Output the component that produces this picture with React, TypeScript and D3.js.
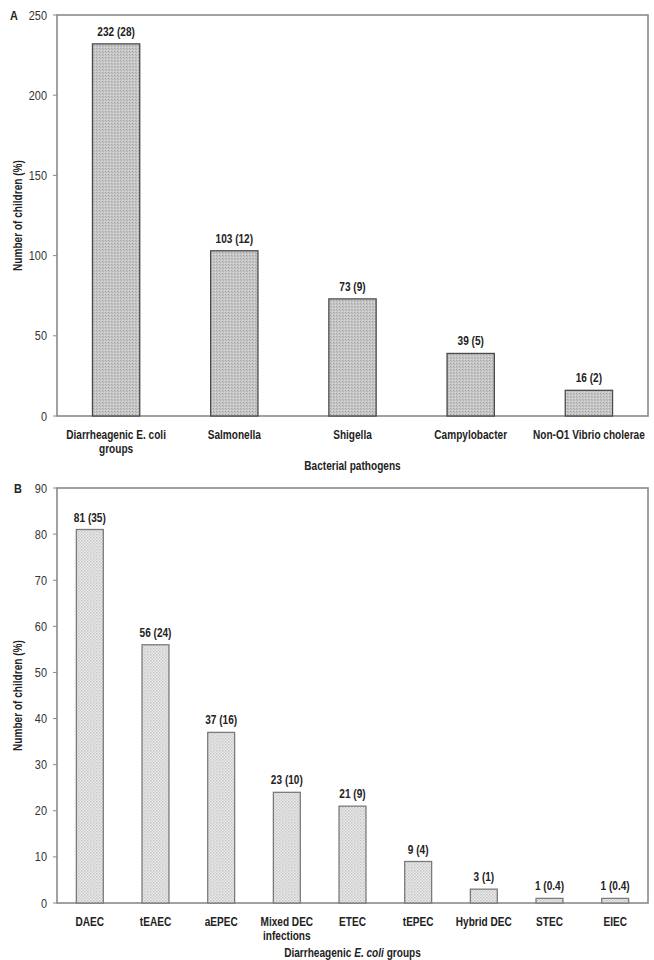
import React from "react";
import * as d3 from "d3";

const pathogenCategories = [["Diarrheagenic E. coli", "groups"], ["Salmonella"], ["Shigella"], ["Campylobacter"], ["Non-O1 Vibrio cholerae"]];
const pathogenValues = [232, 103, 73, 39, 16];
const pathogenLabels = ["232 (28)", "103 (12)", "73 (9)", "39 (5)", "16 (2)"];
const pathogenTicks = [0, 50, 100, 150, 200, 250];

const decCategories = [["DAEC"], ["tEAEC"], ["aEPEC"], ["Mixed DEC", "infections"], ["ETEC"], ["tEPEC"], ["Hybrid DEC"], ["STEC"], ["EIEC"]];
const decValues = [81, 56, 37, 24, 21, 9, 3, 1, 1];
const decLabels = ["81 (35)", "56 (24)", "37 (16)", "23 (10)", "21 (9)", "9 (4)", "3 (1)", "1 (0.4)", "1 (0.4)"];
const decTicks = [0, 10, 20, 30, 40, 50, 60, 70, 80, 90];

const FONT = "'Liberation Sans', Arial, sans-serif";
const SX = 0.84;

function NText(props: { x: number; y: number; anchor?: string; size: number; bold?: boolean; rotate?: boolean; children: React.ReactNode; fill?: string }) {
  const t = props.rotate
    ? `translate(${props.x},${props.y}) rotate(-90) scale(${SX},1)`
    : `translate(${props.x},${props.y}) scale(${SX},1)`;
  return (
    <text transform={t} textAnchor={props.anchor || "middle"} fontFamily={FONT} fontWeight={props.bold ? "bold" : "normal"} fontSize={props.size} fill={props.fill || "#222"}>
      {props.children}
    </text>
  );
}

type PanelProps = {
  letter: string;
  letterX: number;
  top: number;
  bottom: number;
  left: number;
  right: number;
  cats: string[][];
  values: number[];
  labels: string[];
  ticks: number[];
  pattern: string;
  barStroke: string;
  padding: number;
  title: React.ReactNode;
};

function Panel(p: PanelProps) {
  const names = p.cats.map((c) => c.join(" "));
  const x = d3.scaleBand<string>().domain(names).range([p.left, p.right]).paddingInner(p.padding).paddingOuter(p.padding / 2);
  const maxT = p.ticks[p.ticks.length - 1];
  const y = d3.scaleLinear().domain([0, maxT]).range([p.bottom, p.top]);
  const frame = "#8a8a8a";
  return (
    <g>
      <NText x={p.letterX} y={p.top + 5} anchor="start" size={13} bold>{p.letter}</NText>
      <rect x={p.left} y={p.top} width={p.right - p.left} height={p.bottom - p.top} fill="white" stroke={frame} strokeWidth={1.6} />
      {p.ticks.map((t) => (
        <g key={t}>
          <line x1={p.left - 4} x2={p.left} y1={y(t)} y2={y(t)} stroke={frame} strokeWidth={1} />
          <NText x={p.left - 10} y={y(t) + 4.5} anchor="end" size={13} fill="#333">{t}</NText>
        </g>
      ))}
      {names.map((n, i) => {
        const bx = x(n)!;
        const by = y(p.values[i]);
        const cx = bx + x.bandwidth() / 2;
        return (
          <g key={n}>
            <rect x={bx} y={by} width={x.bandwidth()} height={p.bottom - by} fill={`url(#${p.pattern})`} stroke={p.barStroke} strokeWidth={1.3} />
            <NText x={cx} y={by - 8} size={12} bold>{p.labels[i]}</NText>
            {p.cats[i].map((line, j) => (
              <NText key={j} x={cx} y={p.bottom + 23 + j * 14} size={12} bold>{line}</NText>
            ))}
          </g>
        );
      })}
      <NText x={(p.left + p.right) / 2} y={p.bottom + 54} size={12} bold>{p.title}</NText>
      <NText x={22} y={(p.top + p.bottom) / 2} size={12} bold rotate>Number of children (%)</NText>
    </g>
  );
}

export default function App() {
  return (
    <svg width={654} height={960} style={{ position: "absolute", left: 0, top: 0, background: "white" }}>
      <defs>
        <pattern id="hatchA" width={3} height={3} patternUnits="userSpaceOnUse">
          <rect width={3} height={3} fill="#c6c6c6" />
          <rect x={0} y={0} width={1} height={1} fill="#a4a4a4" />
          <rect x={1} y={1} width={1} height={1} fill="#b4b4b4" />
          <rect x={2} y={2} width={1} height={1} fill="#dcdcdc" />
        </pattern>
        <pattern id="dotB" width={3} height={3} patternUnits="userSpaceOnUse">
          <rect width={3} height={3} fill="#ececec" />
          <rect x={0} y={0} width={1.5} height={1.5} fill="#c4c4c4" />
          <rect x={1.5} y={1.5} width={1.5} height={1.5} fill="#cfcfcf" />
        </pattern>
      </defs>
      <rect width={654} height={960} fill="white" />
      <Panel letter="A" letterX={10} top={15} bottom={416} left={57} right={648}
        cats={pathogenCategories} values={pathogenValues} labels={pathogenLabels} ticks={pathogenTicks}
        pattern="hatchA" barStroke="#4a4a4a" padding={0.6} title="Bacterial pathogens" />
      <Panel letter="B" letterX={14} top={488} bottom={903} left={57} right={648}
        cats={decCategories} values={decValues} labels={decLabels} ticks={decTicks}
        pattern="dotB" barStroke="#7a7a7a" padding={0.59}
        title={<><tspan>Diarrheagenic </tspan><tspan fontStyle="italic">E. coli</tspan><tspan> groups</tspan></>} />
    </svg>
  );
}
